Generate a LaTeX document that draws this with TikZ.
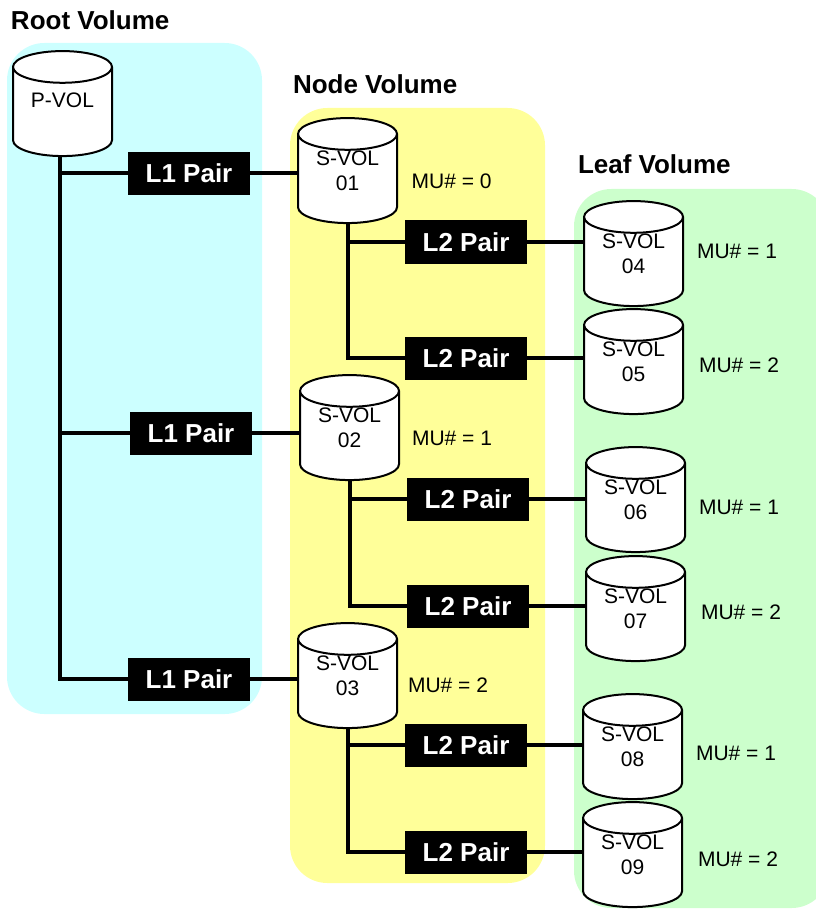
\documentclass[tikz,border=0pt]{standalone}
\usepackage{fontspec}
\setmainfont{Liberation Sans}
\usepackage{tikz}
\usetikzlibrary{positioning,backgrounds,shapes.geometric}

\definecolor{rootfill}{HTML}{CCFFFF}
\definecolor{nodefill}{HTML}{FFFF99}
\definecolor{leaffill}{HTML}{CCFFCC}
% the cylinder shape sits above its text, so lift the text back to the middle
\newcommand{\voltext}[1]{\raisebox{2.75pt}[0pt][0pt]{\parbox{70pt}{\centering #1}}}

\begin{document}
\begin{tikzpicture}[
  x=0.75pt,y=-0.75pt,
  every node/.style={outer sep=0pt},
  vol/.style={shape=cylinder,shape border rotate=90,aspect=0.34,draw=black,line width=1.5pt,fill=white,
    minimum width=74.25pt,minimum height=78.75pt,inner sep=0pt,yshift=-6.75pt,
    font=\fontsize{15.75}{18.5}\selectfont},
  pair/.style={fill=black,text=white,minimum width=91.5pt,minimum height=32.25pt,inner sep=0pt,
    font=\fontsize{19.5}{23}\selectfont\bfseries},
  mu/.style={inner sep=0pt,font=\fontsize{15.75}{18.5}\selectfont},
  panel/.style={rounded corners=28pt,minimum width=191.25pt,inner sep=0pt},
  title/.style={inner sep=0pt,font=\fontsize{19.5}{23}\selectfont\bfseries},
  link/.style={line width=3pt}
]
\useasboundingbox (0,0) rectangle (816,909);

\node[vol] (pvol) at (62.5,103) {\voltext{\raisebox{4.5pt}{P-VOL}}};
\node[pair,right=12pt of pvol,yshift=-46.125pt] (l1a) {L1 Pair};
\node[vol,right=36pt of l1a,yshift=2.625pt] (svol01) {\voltext{S-VOL\\01}};
\node[pair,below=162.375pt of l1a,xshift=1.5pt] (l1b) {L1 Pair};
\node[vol,right=36pt of l1b,yshift=4.5pt] (svol02) {\voltext{S-VOL\\02}};
\node[pair,below=152.25pt of l1b,xshift=-1.5pt] (l1c) {L1 Pair};
\node[vol,right=36pt of l1c,yshift=3pt] (svol03) {\voltext{S-VOL\\03}};

\node[pair,right=6pt of svol01,yshift=-47.25pt] (l2a) {L2 Pair};
\node[pair,below=54.75pt of l2a] (l2b) {L2 Pair};
\node[pair,right=6pt of svol02,yshift=-47.25pt] (l2c) {L2 Pair};
\node[pair,below=48pt of l2c] (l2d) {L2 Pair};
\node[pair,right=6pt of svol03,yshift=-45.75pt] (l2e) {L2 Pair};
\node[pair,below=48pt of l2e] (l2f) {L2 Pair};

\node[vol,right=42.75pt of l2a,yshift=-8.25pt] (svol04) {\voltext{S-VOL\\04}};
\node[vol,right=42.75pt of l2b,yshift=-2.25pt] (svol05) {\voltext{S-VOL\\05}};
\node[vol,right=42.75pt of l2c] (svol06) {\voltext{S-VOL\\06}};
\node[vol,right=42.75pt of l2d,yshift=-1.5pt] (svol07) {\voltext{S-VOL\\07}};
\node[vol,right=42pt of l2e,yshift=-0.75pt] (svol08) {\voltext{S-VOL\\08}};
\node[vol,right=42pt of l2f,yshift=-1.5pt] (svol09) {\voltext{S-VOL\\09}};

\node[mu,right=11pt of svol01,yshift=-1.5pt] (mu01) {MU\# = 0};
\node[mu,right=9.75pt of svol02,yshift=-1.5pt] (mu02) {MU\# = 1};
\node[mu,right=8.25pt of svol03,yshift=-0.75pt] (mu03) {MU\# = 2};
\node[mu,right=10.5pt of svol04,yshift=8.25pt] (mu04) {MU\# = 1};
\node[mu,right=12pt of svol05,yshift=3.75pt] (mu05) {MU\# = 2};
\node[mu,right=10.5pt of svol06,yshift=0.75pt] (mu06) {MU\# = 1};
\node[mu,right=12pt of svol07,yshift=3.75pt] (mu07) {MU\# = 2};
\node[mu,right=10.5pt of svol08,yshift=1.5pt] (mu08) {MU\# = 1};
\node[mu,right=12pt of svol09,yshift=3pt] (mu09) {MU\# = 2};

\coordinate (trunk) at ([xshift=-1.875pt]pvol.south);
\begin{scope}[on background layer]
\clip (0,0) rectangle (816,909);
\node[panel,fill=rootfill,minimum height=503.25pt] (rootpanel) at (134.5,378.5) {};
\node[panel,fill=nodefill,minimum height=581.25pt] (nodepanel) at (417.5,495.5) {};
\node[panel,fill=leaffill,minimum height=539.25pt] (leafpanel) at (701.5,548.5) {};

\draw[link] (trunk) -- (trunk |- l1c.west) -- (l1c.west);
\draw[link] (trunk |- l1a.west) -- (l1a.west);
\draw[link] (trunk |- l1b.west) -- (l1b.west);
\draw[link] (l1a) -- (l1a -| svol01.west);
\draw[link] (l1b) -- (l1b -| svol02.west);
\draw[link] (l1c) -- (l1c -| svol03.west);

\draw[link] (svol01.south) |- (l2b.west);
\draw[link] (svol01.south |- l2a.west) -- (l2a.west);
\draw[link] (svol02.south) |- (l2d.west);
\draw[link] (svol02.south |- l2c.west) -- (l2c.west);
\draw[link] (svol03.south) |- (l2f.west);
\draw[link] (svol03.south |- l2e.west) -- (l2e.west);

\draw[link] (l2a) -- (l2a -| svol04.west);
\draw[link] (l2b) -- (l2b -| svol05.west);
\draw[link] (l2c) -- (l2c -| svol06.west);
\draw[link] (l2d) -- (l2d -| svol07.west);
\draw[link] (l2e) -- (l2e -| svol08.west);
\draw[link] (l2f) -- (l2f -| svol09.west);
\end{scope}

\node[title,above right=9.75pt and 3pt of rootpanel.north west] (roottitle) {Root Volume};
\node[title,above right=10.5pt and 2.25pt of nodepanel.north west] (nodetitle) {Node Volume};
\node[title,above right=11.25pt and 3pt of leafpanel.north west] (leaftitle) {Leaf Volume};
\end{tikzpicture}
\end{document}
